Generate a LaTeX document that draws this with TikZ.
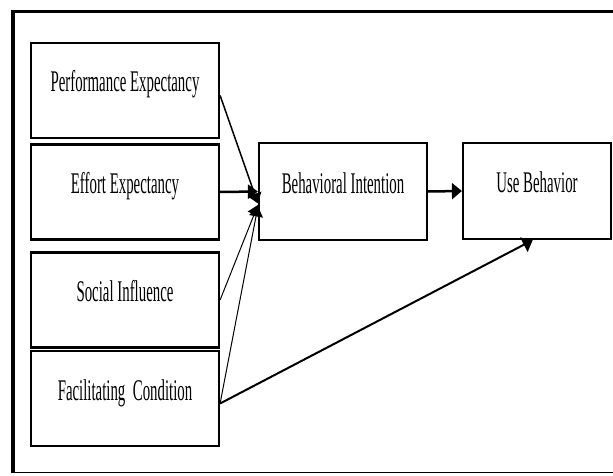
\documentclass[tikz,border=0pt]{standalone}
\usepackage{fontspec}
\setmainfont{Liberation Serif}
\newfontfamily\narrowserif[FakeStretch=0.495]{Liberation Serif}
\usetikzlibrary{arrows.meta}

\begin{document}
\begin{tikzpicture}[x=1pt, y=1pt,
        box/.style={draw, line width=2.2pt, minimum width=188pt, minimum height=95pt, inner sep=0pt,
            font=\narrowserif\fontsize{30}{30}\selectfont, text height=20pt, text depth=17pt},
        conv/.style={-{Triangle[length=10pt, width=14pt]}},
        tip/.style={-{Triangle[length=10pt, width=16pt]}}]
        \useasboundingbox (0,0) rectangle (613,475);
        \clip (0,0) rectangle (613,475);

        % outer frame
        \draw[line width=1.5pt] (13,2.5) -- (625,2.5);
        \draw[line width=3.5pt] (13,2.5) |- (625,463.5);

        \node[box] (PE) at (125,384.5) {Performance Expectancy};
        \node[box] (EE) at (125,283) {Effort Expectancy};
        \node[box] (SI) at (125,175) {Social Influence};
        \node[box] (FC) at (125,76.5) {Facilitating\ \ Condition};

        \node[box, minimum width=168pt, minimum height=97pt] (BI) at (343,283.5) {Behavioral Intention};
        \node[box, minimum width=148pt, minimum height=96pt] (UB) at (537,284) {Use Behavior};

        \draw[line width=1.5pt, conv] (PE.-3) -- (BI.188);
        \draw[line width=2.5pt, conv] (EE.east) -- (BI.west);
        \draw[line width=1pt, conv] (SI.east) -- (BI.189);
        \draw[line width=1pt, conv] (FC.-3) -- (BI.190);
        %\draw[line width=1pt, conv] (FC.-3) -- (BI.south west);

        \draw[line width=2.5pt, tip] (BI.east) -- (UB.west);
        \draw[line width=2pt, tip] (FC.-3) -- (UB.265);
    \end{tikzpicture}
\end{document}
